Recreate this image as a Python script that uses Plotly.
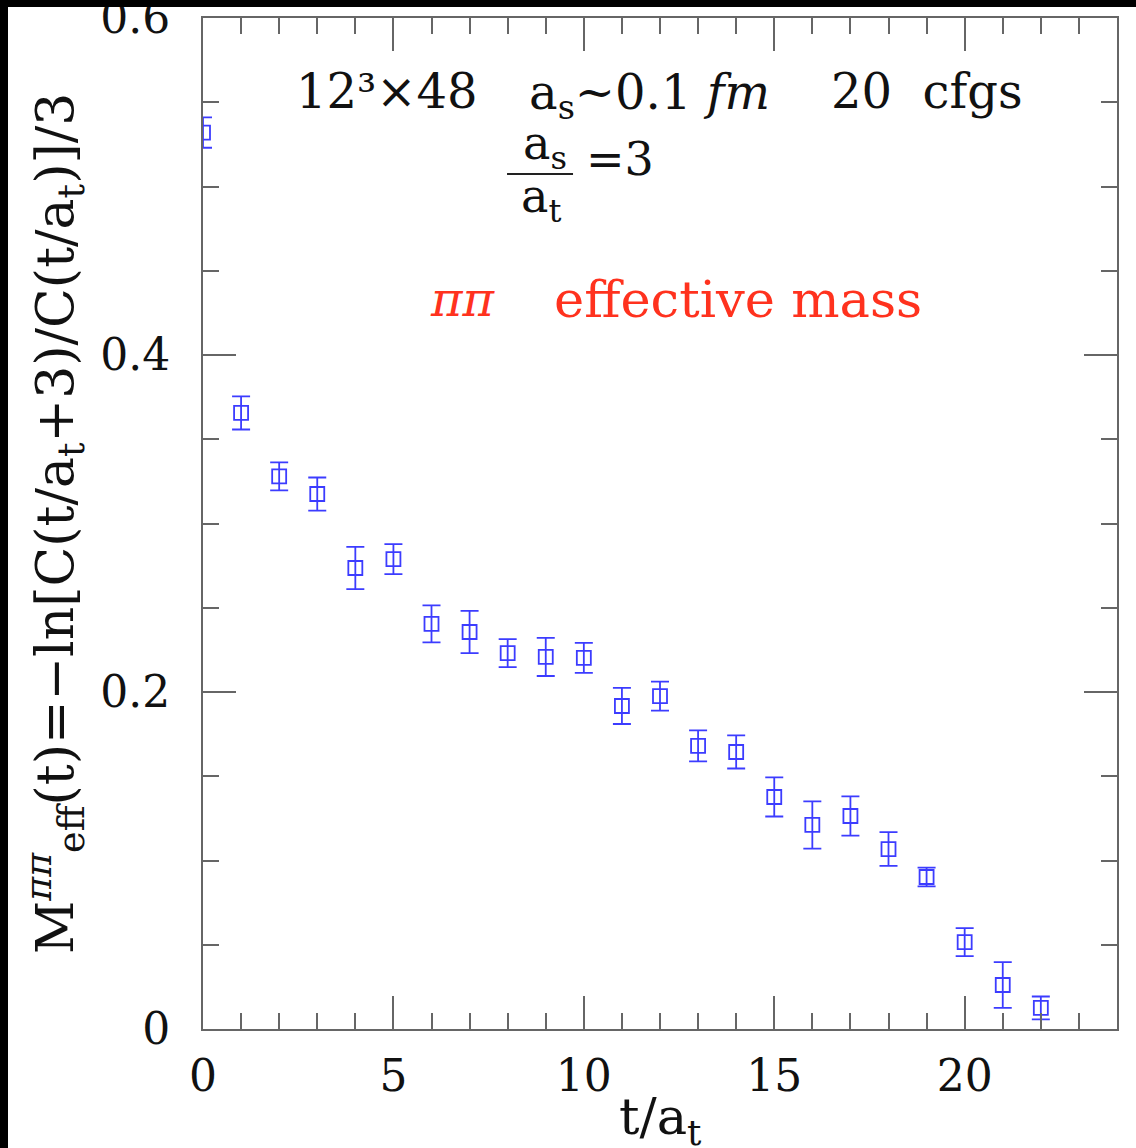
import plotly.graph_objects as go

t_vals = [0, 1, 2, 3, 4, 5, 6, 7, 8, 9, 10, 11, 12, 13, 14, 15, 16, 17, 18, 19, 20, 21, 22]
m_eff = [0.532, 0.3656, 0.328, 0.3175, 0.2736, 0.2789, 0.2404, 0.2356, 0.2231, 0.2208,
         0.2202, 0.1917, 0.1976, 0.168, 0.1644, 0.1377, 0.1211, 0.1264, 0.1068, 0.0902,
         0.0516, 0.0261, 0.0125]
m_err = [0.009, 0.0098, 0.0083, 0.0098, 0.0125, 0.0089, 0.011, 0.0125, 0.0083, 0.0113,
         0.0089, 0.0107, 0.0086, 0.0092, 0.0098, 0.0116, 0.014, 0.0116, 0.010, 0.0056,
         0.0083, 0.0136, 0.0068]

x_ticks = [0, 5, 10, 15, 20]
y_ticks = [0, 0.2, 0.4, 0.6]
y_tick_text = ["0", "0.2", "0.4", "0.6"]

BLUE = "rgb(60,60,255)"
RED = "rgb(255,50,30)"
AXC = "#666666"
FONT = "DejaVu Serif"
NB = "\u00a0"

# layout helpers: page pixels -> data / paper coordinates (positions of texts only)
def dx(px):
    return (px - 203) / 38.08

def dy(py):
    return (1030 - py) / 1685

def px_(px):
    return (px - 203) / 914

def py_(py):
    return (1029 - py) / 1011

fig = go.Figure()
fig.add_trace(go.Scatter(
    x=t_vals, y=m_eff, mode="markers",
    marker=dict(symbol="square-open", size=14, color=BLUE, line=dict(width=1.8, color=BLUE)),
    error_y=dict(type="data", array=m_err, visible=True, color=BLUE, thickness=1.8, width=9),
    showlegend=False,
))

axis_common = dict(
    showline=True, linecolor=AXC, linewidth=2, mirror="ticks",
    ticks="inside", tickcolor=AXC, tickwidth=2, showgrid=False, zeroline=False,
    tickfont=dict(family=FONT, size=44, color="#111"),
    ticklabeloverflow="allow", automargin=False,
)

fig.update_xaxes(range=[0, 24], tickvals=x_ticks, ticklen=33,
                 minor=dict(ticks="inside", dtick=1, ticklen=16, tickcolor=AXC, tickwidth=2, showgrid=False),
                 ticklabelstandoff=7, **axis_common)
fig.update_yaxes(range=[0, 0.6], tickvals=y_ticks, ticktext=y_tick_text, ticklen=33,
                 minor=dict(ticks="inside", dtick=0.05, ticklen=16, tickcolor=AXC, tickwidth=2, showgrid=False),
                 ticklabelstandoff=22, **axis_common)

BLACKFONT = dict(family=FONT, size=48, color="#111")
ann = []
ann.append(dict(x=dx(387), y=dy(92), xref="x", yref="y", xanchor="center", yanchor="middle",
                text="12³×48", showarrow=False, font=BLACKFONT))
ann.append(dict(x=dx(649), y=dy(96), xref="x", yref="y", xanchor="center", yanchor="middle",
                text="a<sub>s</sub>~0.1" + NB + "<i>fm</i>", showarrow=False, font=BLACKFONT))
ann.append(dict(x=dx(927), y=dy(92), xref="x", yref="y", xanchor="center", yanchor="middle",
                text="20" + NB * 2 + "cfgs", showarrow=False, font=BLACKFONT))
ann.append(dict(x=dx(545), y=dy(147), xref="x", yref="y", xanchor="center", yanchor="middle",
                text="a<sub>s</sub>", showarrow=False, font=dict(family=FONT, size=46, color="#111")))
ann.append(dict(x=dx(541), y=dy(200), xref="x", yref="y", xanchor="center", yanchor="middle",
                text="a<sub>t</sub>", showarrow=False, font=dict(family=FONT, size=46, color="#111")))
ann.append(dict(x=dx(620), y=dy(160), xref="x", yref="y", xanchor="center", yanchor="middle",
                text="=3", showarrow=False, font=dict(family=FONT, size=46, color="#111")))
ann.append(dict(x=dx(463), y=dy(300), xref="x", yref="y", xanchor="center", yanchor="middle",
                text="<i>ππ</i>", showarrow=False, font=dict(family=FONT, size=48, color=RED)))
ann.append(dict(x=dx(738), y=dy(300), xref="x", yref="y", xanchor="center", yanchor="middle",
                text="effective" + NB + "mass", showarrow=False, font=dict(family=FONT, size=51, color=RED)))
ann.append(dict(x=px_(55), y=py_(524), xref="paper", yref="paper",
                xanchor="center", yanchor="middle",
                text="M<sup><i>ππ</i></sup><sub>eff</sub>(t)=−ln[C(t/a<sub>t</sub>+3)/C(t/a<sub>t</sub>)]/3",
                textangle=-90, showarrow=False, font=dict(family=FONT, size=52, color="#111")))
ann.append(dict(x=px_(660), y=py_(1120), xref="paper", yref="paper",
                xanchor="center", yanchor="middle",
                text="t/a<sub>t</sub>", showarrow=False, font=dict(family=FONT, size=51, color="#111")))

shapes = [
    dict(type="line", xref="x", yref="y", x0=dx(507), x1=dx(573),
         y0=dy(175), y1=dy(175), line=dict(color="#222", width=2)),
    # dark frame strips at the top and left edge of the picture
    dict(type="rect", xref="paper", yref="paper", x0=px_(-5), x1=px_(8), y0=py_(1160), y1=py_(-5),
         fillcolor="black", line=dict(width=0), layer="above"),
    dict(type="rect", xref="paper", yref="paper", x0=px_(-5), x1=px_(1145), y0=py_(7), y1=py_(-5),
         fillcolor="black", line=dict(width=0), layer="above"),
]

fig.update_layout(
    width=1136, height=1148,
    margin=dict(l=203, r=19, t=18, b=119),
    paper_bgcolor="white", plot_bgcolor="white",
    annotations=ann, shapes=shapes,
)

fig.write_html("out.html", config={"displayModeBar": False},
               post_script="document.body.style.margin='0';")
